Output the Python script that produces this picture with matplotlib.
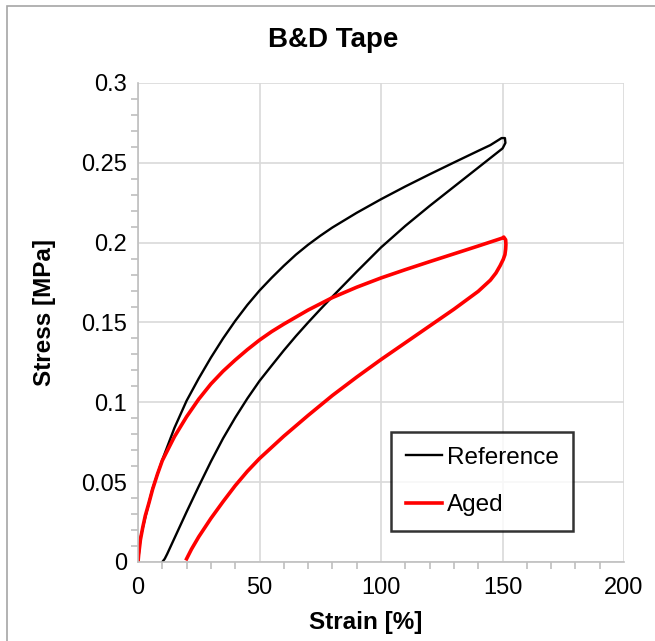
# stress-strain hysteresis, reference vs aged tape

import numpy as np
import matplotlib.pyplot as plt
import matplotlib.ticker as plticker
from matplotlib.patches import Rectangle

plt.rcParams['font.family'] = ['Liberation Sans', 'DejaVu Sans']

# Reference sample: loading, tip, unloading
ref_strain = [0, 0.3, 1, 2, 3, 4.5, 6, 8, 10, 12.5, 15, 17.5, 20, 25, 30, 35, 40, 45, 50, 55, 60, 65, 70, 75, 80,
              90, 100, 110, 120, 130, 140, 145, 149.6,
              151, 151.2, 150.3,
              150, 140, 130, 120, 110, 100, 90, 80, 75, 70, 65, 60, 55, 50, 45, 40, 35, 30, 25, 20, 15, 12, 11, 10]
ref_stress = [0, 0.004, 0.015, 0.0215, 0.028, 0.037, 0.046, 0.055, 0.064, 0.074, 0.084, 0.0925, 0.101, 0.115,
              0.128, 0.140, 0.151, 0.161, 0.170, 0.178, 0.1855, 0.1925, 0.1987, 0.2043, 0.2095, 0.2187, 0.2272,
              0.2352, 0.2428, 0.2502, 0.2575, 0.2611, 0.2655,
              0.2655, 0.2625, 0.2598,
              0.259, 0.247, 0.235, 0.223, 0.2105, 0.197, 0.1818, 0.1662, 0.1582, 0.150, 0.1415, 0.1325, 0.123,
              0.1134, 0.1024, 0.0904, 0.0774, 0.0629, 0.0474, 0.0314, 0.0149, 0.005, 0.002, 0]

# Aged sample
aged_strain = [0, 0.3, 1, 2, 3, 4.5, 6, 8, 10, 15, 20, 25, 30, 35, 40, 45, 50, 55, 60, 70, 80, 90, 100, 110, 120,
               130, 140, 150,
               150.5, 151.3, 151.4,
               151.3, 151, 150.3, 149, 147.3, 145, 140, 130, 120, 110, 100, 90, 80, 70, 60, 50, 45, 40, 35, 30,
               25, 22, 20]
aged_stress = [0, 0.005, 0.014, 0.022, 0.029, 0.037, 0.0455, 0.055, 0.0635, 0.0785, 0.091, 0.102, 0.1115, 0.1195,
               0.1265, 0.133, 0.139, 0.1443, 0.149, 0.1578, 0.1656, 0.1721, 0.1779, 0.1831, 0.1881, 0.193,
               0.1979, 0.2029,
               0.2035, 0.2018, 0.1988,
               0.196, 0.1925, 0.1895, 0.1855, 0.181, 0.1765, 0.1695, 0.1583, 0.1478, 0.1373, 0.1268, 0.1158,
               0.1043, 0.0918, 0.0788, 0.0648, 0.0568, 0.0478, 0.0378, 0.0273, 0.0158, 0.008, 0.002]

W, H = 655, 641
fig = plt.figure(figsize=(W / 100, H / 100), dpi=100)
ax = fig.add_axes([138 / W, 1 - 562 / H, (624 - 138) / W, (562 - 83) / H])

# outer chart-area border (Excel style)
fig.patches.append(Rectangle((7 / W, -0.1), 1.2, 1 - 6 / H + 0.1, transform=fig.transFigure,
                             fill=False, edgecolor='#a6a6a6', linewidth=1.2))

ax.plot(ref_strain, ref_stress, color='black', lw=1.7, label='Reference', solid_joinstyle='round')
ax.plot(aged_strain, aged_stress, color='#ff0000', lw=2.6, label='Aged', solid_joinstyle='round')

ax.set_xlim(0, 200)
ax.set_ylim(0, 0.3)
ax.xaxis.set_major_locator(plticker.MultipleLocator(50))
ax.xaxis.set_minor_locator(plticker.MultipleLocator(10))
ax.yaxis.set_major_locator(plticker.MultipleLocator(0.05))
ax.yaxis.set_minor_locator(plticker.MultipleLocator(0.01))
ax.yaxis.set_major_formatter(plticker.FuncFormatter(lambda v, p: ('%g' % round(v, 2))))

ax.grid(True, which='major', color='#d9d9d9', lw=1.2)
ax.set_axisbelow(True)
for s in ['top', 'right']:
	ax.spines[s].set_visible(False)
for s in ['left', 'bottom']:
	ax.spines[s].set_color('#bfbfbf')
	ax.spines[s].set_linewidth(1.2)
ax.tick_params(which='both', direction='out', color='#bfbfbf', width=1.2, labelsize=17, labelcolor='black')
ax.tick_params(which='major', length=0)
ax.tick_params(axis='x', which='major', pad=11)
ax.tick_params(axis='y', which='major', pad=8)
ax.tick_params(which='minor', length=5)

leg = ax.legend(loc='upper left', bbox_to_anchor=((391 - 138) / (624 - 138), (562 - 432) / (562 - 83)),
                fontsize=17.5, frameon=True, fancybox=False, edgecolor='black', handlelength=1.5,
                handletextpad=0.2, labelspacing=1.05, borderpad=0.6, borderaxespad=0)
leg.get_frame().set_linewidth(1.8)

fig.text(333 / W, 1 - 40 / H, 'B&D Tape', ha='center', va='center', fontsize=20, fontweight='bold')
fig.text(366 / W, 1 - 622 / H, 'Strain [%]', ha='center', va='center', fontsize=17.5, fontweight='bold')
fig.text(45 / W, 1 - 312 / H, 'Stress [MPa]', ha='center', va='center', fontsize=17.5, fontweight='bold',
         rotation=90)

plt.savefig('out.png', dpi=100)
plt.close()
